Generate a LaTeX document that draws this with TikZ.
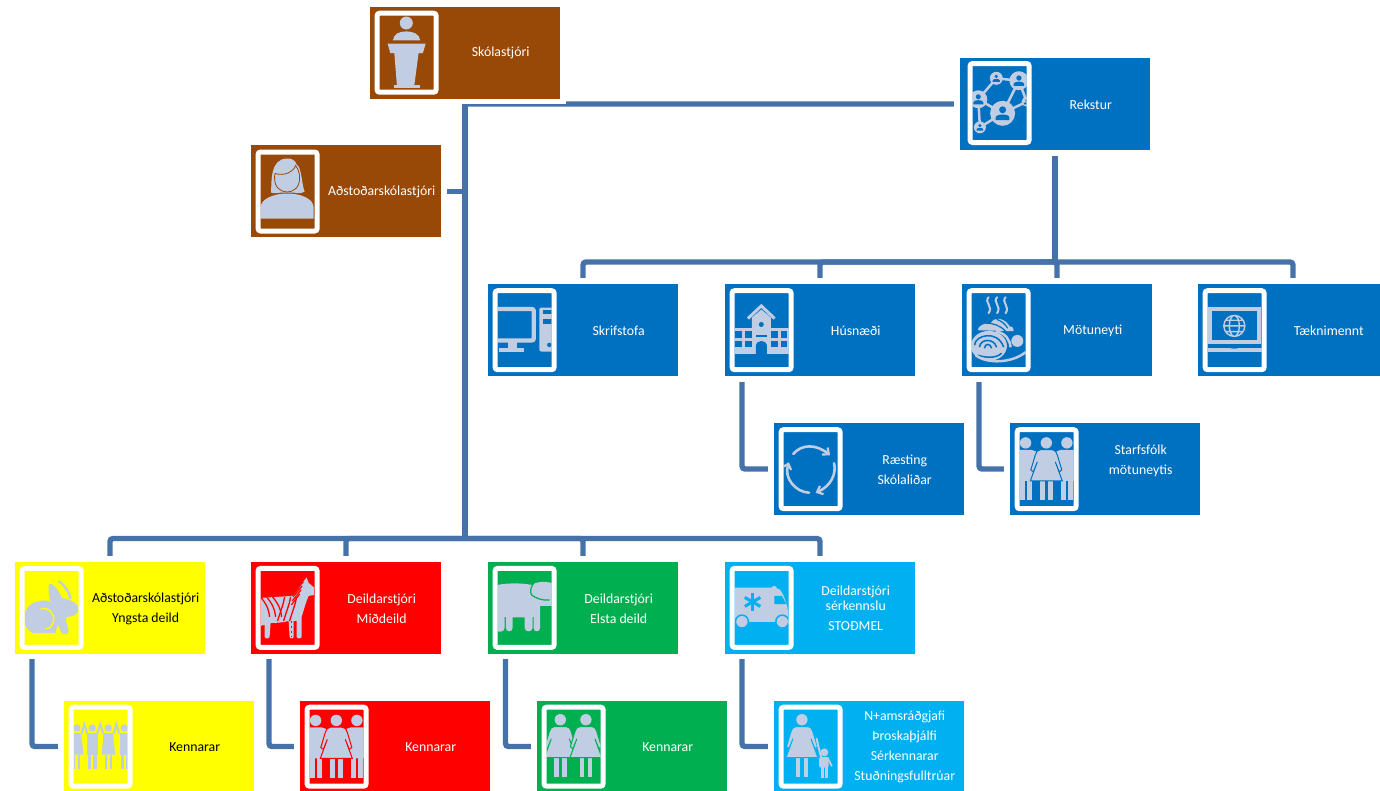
\documentclass[tikz,border=0pt]{standalone}
\usepackage{fontspec}
\setmainfont{Carlito}
\usetikzlibrary{backgrounds,arrows.meta,calc}
\definecolor{cbrown}{HTML}{984807}
\definecolor{cblue}{HTML}{0070C0}
\definecolor{cyellow}{HTML}{FFFF00}
\definecolor{cred}{HTML}{FF0000}
\definecolor{cgreen}{HTML}{00B050}
\definecolor{csky}{HTML}{00B0F0}
\definecolor{iconc}{HTML}{C1CDE2}
\definecolor{linkc}{HTML}{4672AA}
\tikzset{
  orgbox/.style={anchor=north west,inner sep=0pt,outer sep=0pt,minimum width=190pt,minimum height=92pt,preaction={draw=white,line width=11.5pt}},
  orglabel/.style={inner sep=0pt,align=center,font=\fontsize{13.8}{20}\selectfont},
  iconframe/.style={draw=white,line width=5pt,rounded corners=2.5pt},
  link/.style={draw=linkc,line width=5.4pt,rounded corners=3pt}
}
\def\iy{9.2}
\def\ix{9.6}
\newcommand\OrgBox[7]{%
  \node[orgbox,fill=#4,at={(#2,#3)}] (#1) {};
  \node[orglabel,text=#5,at={(#2+130.7,#3+46.7)}] (#1-t) {#6};
  \begin{scope}[shift={(#2+\ix,#3+\iy)}]
    \colorlet{bx}{#4}
    \begin{scope}
      \clip (0,0) rectangle (54,74);
      #7
    \end{scope}
    \draw[iconframe] (-2.5,-2.5) rectangle (56.5,76.5);
  \end{scope}
}
% figures
\newcommand\Wom[2]{\begin{scope}[shift={(#1,#2)}]
  \fill[iconc] (0,0) circle (5.7);
  \fill[iconc] (-6,38) rectangle (-1.7,57.5);
  \fill[iconc] (2,38) rectangle (6.3,57.5);
  \filldraw[fill=iconc,draw=bx,line width=1pt] (-6,6.8) -- (6,6.8) .. controls (9,7) and (10,9) .. (11,12) -- (15.5,27) -- (13,29) -- (9,19) -- (16,38) -- (-16,38) -- (-9,19) -- (-13,29) -- (-15.5,27) -- (-11,12) .. controls (-10,9) and (-9,7) .. (-6,6.8) -- cycle;
\end{scope}}
\newcommand\Man[2]{\begin{scope}[shift={(#1,#2)}]
  \fill[iconc] (0,0) circle (5.7);
  \fill[iconc] (-12,38) -- (-12,12) .. controls (-12,9) and (-9,7) .. (-6,7) -- (6,7) .. controls (9,7) and (12,9) .. (12,12) -- (12,38) -- cycle;
  \fill[iconc] (-5.5,36) rectangle (-0.8,57.5);
  \fill[iconc] (1.5,36) rectangle (6.5,57.5);
\end{scope}}
\newcommand\NetP[3]{%
  \fill[iconc] (#1,#2) circle (#3);
  \fill[bx] (#1,#2-.28*#3) circle (.28*#3);
  \fill[bx] (#1-.55*#3,#2+.55*#3) -- (#1-.55*#3,#2+.32*#3) .. controls (#1-.5*#3,#2+.02*#3) and (#1+.5*#3,#2+.02*#3) .. (#1+.55*#3,#2+.32*#3) -- (#1+.55*#3,#2+.55*#3) -- cycle;
}
% icons
\newcommand\IcPodium{%
  \fill[iconc] (26.7,7.3) circle (6.5);
  \fill[iconc] (13.3,24.7) .. controls (14,18) and (20,15.7) .. (26.7,15.7) .. controls (33,15.7) and (40,18) .. (40.7,24.7) -- cycle;
  \fill[iconc] (8,28) -- (46,28) -- (43.3,37.3) -- (39,37.3) -- (34.7,69.7) -- (17.3,69.7) -- (14.7,37.3) -- (10.7,37.3) -- cycle;
  \fill[iconc] (14,69.7) rectangle (40,72.7);
}
\newcommand\IcWoman{%
  \fill[iconc] (10.5,38) .. controls (11,28) and (9,4) .. (26.7,4) .. controls (34,4) and (35,8) .. (36,10) .. controls (41,12) and (41,30) .. (44,37) .. controls (42,39) and (36,39) .. (33,38) -- (20,38) .. controls (16,39) and (12,39) .. (10.5,38) -- cycle;
  \filldraw[fill=iconc,draw=bx,line width=0.8pt] (39,24) .. controls (39,42) and (14,42) .. (14,24) .. controls (14,21) and (14,20) .. (14.5,19) .. controls (24,22) and (33,17) .. (35,11) .. controls (38,15) and (39,19) .. (39,24) -- cycle;
  \fill[iconc] (0,64) -- (0,53) .. controls (0,44) and (14,39) .. (26.7,39) .. controls (40,39) and (53,44) .. (53,53) -- (53,64) -- cycle;
}
\newcommand\IcNet{%
  \draw[iconc,line width=2.5pt] (7.3,61.3) -- (5.7,33.3) -- (23.7,12.3) -- (46.3,14.7) -- (30,47.3) -- (5.7,33.3) (7.3,61.3) -- (30,47.3) -- (54,35.7) -- (46.3,14.7);
  \NetP{23.7}{12.3}{6.5}
  \NetP{46.3}{14.7}{9.5}
  \NetP{5.7}{33.3}{9}
  \NetP{30}{47.3}{12.5}
  \NetP{7.3}{61.3}{6}
  \NetP{54}{35.7}{5}
}
\newcommand\IcPc{%
  \draw[iconc,line width=4.3pt,rounded corners=2pt] (-10,15.8) rectangle (36.2,47.2);
  \fill[iconc] (10.7,49) rectangle (19,54.5);
  \fill[iconc] (1.7,54.3) rectangle (26.3,58.7);
  \fill[iconc,rounded corners=2pt] (41.7,14.3) rectangle (65,58.3);
  \fill[bx] (45,16.7) rectangle (60,21);
  \fill[bx] (45,25.3) rectangle (60,30.3);
  \fill[bx] (51.7,51.7) circle (2.2);
}
\newcommand\IcSchool{%
  \draw[iconc,line width=3pt] (13.3,25.3) -- (26.7,12.7) -- (40,25.3);
  \fill[iconc] (17.3,35) -- (17.3,24.3) -- (26.7,16.3) -- (36.3,24.3) -- (36.3,35) -- cycle;
  \fill[iconc] (0,34.3) rectangle (54,61);
  \fill[bx] (26.7,31.3) circle (2.5);
  \foreach \xa/\xb in {0.7/7.7,10.7/17.3,36.7/43,46.3/52.7}{
    \fill[bx] (\xa,38) rectangle (\xb,44.3);
    \fill[bx] (\xa,47.7) rectangle (\xb,53.7);
  }
  \fill[bx] (21.7,41.3) rectangle (32.3,43.7);
  \fill[bx] (21.3,61) -- (21.3,53) .. controls (21.3,46) and (32.3,46) .. (32.3,53) -- (32.3,61) -- cycle;
}
\newcommand\IcFood{%
  \foreach \sx in {17,25.5,34}{
    \draw[iconc,line width=2pt,line cap=round] (\sx,4) .. controls (\sx-5,9) and (\sx+5,13) .. (\sx,20);
  }
  \fill[iconc] (6,37) .. controls (8,30) and (16,30) .. (19,30) .. controls (24,22) and (34,26) .. (38,33) .. controls (40,33) and (42,34) .. (42,38) -- cycle;
  \draw[bx,line width=1.2pt] (14,30) .. controls (22,30) and (28,32) .. (34,38) (25,26) .. controls (30,28) and (34,31) .. (36,35);
  \fill[iconc] (17.3,52.7) ellipse (18 and 15);
  \draw[iconc,line width=2.5pt] (24,38) .. controls (34,40) and (38,46) .. (39,54);
  \draw[bx,line width=1.5pt] (3,52) .. controls (3,42) and (26,36) .. (32,54) (8,54) .. controls (8,46) and (22,44) .. (25,54) (13,55) .. controls (13,50) and (19,50) .. (20,55) (6,62) .. controls (12,64) and (24,66) .. (30,60);
  \fill[iconc] (45.7,47.7) circle (6);
  \draw[iconc,line width=2.5pt] (4,62) .. controls (16,71) and (40,70) .. (54,59);
}
\newcommand\IcLaptop{%
  \draw[iconc,line width=4.2pt] (1.9,15.8) rectangle (51.1,48.9);
  \fill[iconc] (0,54.3) rectangle (54,58.7);
  \fill[bx] (21.7,54.3) .. controls (22,55.8) and (31,55.8) .. (31.7,54.3) -- cycle;
  \draw[iconc,line width=1.4pt] (26.7,32.7) circle (10.5) (26.7,32.7) ellipse (5 and 10.5) (16.2,32.7) -- (37.2,32.7) (18,27) -- (35.4,27) (18,38.4) -- (35.4,38.4);
}
\newcommand\IcCycle{%
  \begin{scope}[iconc,line width=2.6pt,line cap=round]
    \draw[-{Straight Barb[length=5pt,width=9pt,line width=2.2pt]}] (9.7,21.7) .. controls (18,12) and (32,11.5) .. (46.5,23);
    \draw[-{Straight Barb[length=5pt,width=9pt,line width=2.2pt]}] (50.5,31) .. controls (53,42) and (47,54) .. (32,60.5);
    \draw[-{Straight Barb[length=5pt,width=9pt,line width=2.2pt]}] (25.5,60.5) .. controls (12,60) and (0,46) .. (5.3,30);
  \end{scope}
}
\newcommand\IcRabbit{%
  \fill[iconc] (0,42) .. controls (3,35) and (8,31) .. (12,31) .. controls (16,29) and (22,29) .. (26,31) .. controls (24,24) and (23,14) .. (25,13) .. controls (29,12) and (36,22) .. (37,27) .. controls (44,28) and (54,32) .. (54,38) .. controls (54,43) and (49,46) .. (42,46) .. controls (40,50) and (43,54) .. (44,60) .. controls (44,64) and (39,64) .. (37,62) -- (33,53) -- (31,62) -- (8,62) .. controls (4,60) and (1,57) .. (0,52) -- cycle;
  \draw[iconc,line width=2.4pt] (34,10) .. controls (40,14) and (45,22) .. (46,28);
  \draw[bx,line width=1.4pt] (16,38) .. controls (24,36) and (30,42) .. (29,50) .. controls (28,55) and (25,58) .. (21,58);
}
\newcommand\IcZebra{%
  \begin{scope}
    \clip (0,27) -- (32,25) .. controls (38,20) and (42,11) .. (46,6.5) -- (48,12) -- (54,17) -- (54,24) -- (48,25) .. controls (45,32) and (43,40) .. (41,46) -- (41,66) .. controls (41,68) and (36,68) .. (36,66) -- (36,50) -- (33,50) -- (33,66) .. controls (33,68) and (29,68) .. (29,66) -- (28,50) .. controls (22,52) and (14,52) .. (10,52) -- (9,66) .. controls (9,68) and (4,68) .. (4,66) -- (4,54) -- (0,55) -- cycle;
    \fill[iconc] (0,0) rectangle (54,74);
    \foreach \a in {0,6,12}{
      \draw[bx,line width=1.3pt] (\a,26) .. controls (\a+4,31) and (\a+8,36) .. (\a+9,46);
    }
    \foreach \a in {24,30,36}{
      \draw[bx,line width=1.3pt] (\a,26) .. controls (\a-1,33) and (\a-4,40) .. (\a-7,50);
    }
    \foreach \a in {0,4,8,12,16}{
      \draw[bx,line width=1.2pt] (44-\a*0.3,7+\a) -- (34-\a*0.2,18+\a);
    }
    \draw[bx,line width=1pt,dash pattern=on 2pt off 3pt] (31,50) -- (31,66);
  \end{scope}
}
\newcommand\IcElephant{%
  \fill[iconc] (0,14) .. controls (10,12) and (24,12) .. (34,14) .. controls (38,11) and (46,10) .. (54,12) -- (54,35) -- (42.5,35) -- (42.5,57) .. controls (42.5,61.5) and (36,61.5) .. (36,57) -- (36,46) -- (35,46) -- (35,57) .. controls (35,61.5) and (27,61.5) .. (27,57) -- (27,46.5) -- (15,46.5) -- (15,57) .. controls (15,61.5) and (8.3,61.5) .. (8.3,57) -- (8.3,46) -- (7,46) -- (7,57) .. controls (7,61.5) and (0,61.5) .. (0,60) -- cycle;
  \draw[bx,line width=1.2pt] (37,11) .. controls (33,16) and (32,21) .. (34,24) .. controls (38,27) and (44,30) .. (52,29);
}
\newcommand\IcAmbulance{%
  \fill[iconc] (39.5,18) circle (3);
  \fill[iconc] (0,16.7) -- (38,16.7) -- (44,18) .. controls (48,20) and (51,30) .. (53,37) -- (54,52) -- (0,52) -- cycle;
  \fill[bx] (39.7,25) -- (47.3,25) -- (51.7,33.3) -- (39.7,33.3) -- cycle;
  \foreach \rr in {0,60,120}{
    \draw[bx,line width=3pt,rotate around={\rr:(18,31)}] (18,22) -- (18,40);
  }
  \fill[bx] (0,51.5) rectangle (54,56);
  \filldraw[fill=iconc,draw=bx,line width=1.5pt] (7.3,50.7) circle (6.5);
  \filldraw[fill=iconc,draw=bx,line width=1.5pt] (47.7,50.7) circle (6.5);
}
\newcommand\IcThree{%
  \Man{6}{10.7}
  \Man{47.3}{10.7}
  \Wom{26.7}{10.7}
}
\newcommand\IcTwo{%
  \Wom{13.7}{10}
  \Wom{39.3}{10}
}
\newcommand\IcFour{%
  \foreach \cx in {3.3,18.7,34.7,50.7}{
    \fill[iconc] (\cx,18.3) circle (3.7);
  }
  \draw[iconc,line width=2pt] (8,24) -- (10.7,14.5) -- (13.5,24) (23.5,24) -- (26.7,14.5) -- (29.7,24) (40,24) -- (42.7,14.5) -- (45.5,24);
  \fill[iconc] (-1,23.5) -- (7.5,23.5) -- (10,45) -- (-3,45) -- cycle;
  \fill[iconc] (13.5,23.5) rectangle (24,45);
  \fill[iconc] (14.5,45) rectangle (17.7,59.3);
  \fill[iconc] (19.5,45) rectangle (23,59.3);
  \fill[iconc] (30,23.5) -- (39.5,23.5) -- (41.5,45) -- (28,45) -- cycle;
  \fill[iconc] (31,45) rectangle (33.7,59.3);
  \fill[iconc] (36,45) rectangle (38.7,59.3);
  \fill[iconc] (46,23.5) rectangle (56,45);
  \fill[iconc] (47,45) rectangle (50,59.3);
  \fill[iconc] (52,45) rectangle (55,59.3);
  \fill[iconc] (0,45) rectangle (1.5,59.3);
  \fill[iconc] (4,45) rectangle (6.5,59.3);
}
\newcommand\IcMother{%
  \Wom{18.3}{10}
  \fill[iconc] (40.7,42.7) circle (4);
  \draw[iconc,line width=2pt,line cap=round] (33,29) -- (38,50);
  \draw[iconc,line width=2pt,line cap=round] (44,48) -- (48,56);
  \fill[iconc,rounded corners=2pt] (35.5,47.5) rectangle (45,58);
  \fill[iconc] (37,57) rectangle (40,68.3);
  \fill[iconc] (41.5,57) rectangle (44.5,68.3);
}
\begin{document}
\begin{tikzpicture}[x=1pt,y=-1pt]
\useasboundingbox (0,0) rectangle (1380,790);
\OrgBox{skola}{370}{6.5}{cbrown}{white}{Skólastjóri}{\IcPodium}
\OrgBox{adst}{251}{145.3}{cbrown}{white}{Aðstoðarskólastjóri}{\IcWoman}
\def\iy{8}\def\ix{12.6}
\OrgBox{rekstur}{960}{58}{cblue}{white}{Rekstur}{\IcNet}
\def\iy{9.2}\def\ix{9.6}
\OrgBox{skrif}{488}{284}{cblue}{white}{Skrifstofa}{\IcPc}
\OrgBox{husn}{725}{284}{cblue}{white}{Húsnæði}{\IcSchool}
\OrgBox{motun}{962}{284}{cblue}{white}{Mötuneyti}{\IcFood}
\OrgBox{taekni}{1198}{284}{cblue}{white}{Tæknimennt}{\IcLaptop}
\OrgBox{raest}{774}{423}{cblue}{white}{Ræsting\\Skólaliðar}{\IcCycle}
\OrgBox{starfs}{1010}{423}{cblue}{white}{Starfsfólk\\mötuneytis\\\mbox{}}{\IcThree}
\OrgBox{yngsta}{15}{561.7}{cyellow}{black}{Aðstoðarskólastjóri\\Yngsta deild}{\IcRabbit}
\OrgBox{mid}{251}{561.7}{cred}{white}{Deildarstjóri\\Miðdeild}{\IcZebra}
\OrgBox{elsta}{488}{561.7}{cgreen}{white}{Deildarstjóri\\Elsta deild}{\IcElephant}
\OrgBox{serk}{725}{561.7}{csky}{white}{Deildarstjóri\\[-5pt]sérkennslu\\STOÐMEL}{\IcAmbulance}
\OrgBox{kyng}{64}{700.5}{cyellow}{black}{Kennarar}{\IcFour}
\OrgBox{kmid}{300}{700.5}{cred}{white}{Kennarar}{\IcThree}
\OrgBox{kels}{537}{700.5}{cgreen}{white}{Kennarar}{\IcTwo}
\OrgBox{kser}{774}{700.5}{csky}{white}{N+amsráðgjafi\\Þroskaþjálfi\\Sérkennarar\\Stuðningsfulltrúar}{\IcMother}
\coordinate (busa) at (465,538.5);
\coordinate (busb) at (1055,262);
\begin{pgfonlayer}{background}
  \draw[link] (rekstur.west) -| (skola.south);
  \draw[link] (skola.south) -- (busa);
  \draw[link] (adst.east) -- (adst.east -| skola.south);
  \draw[link] (busa) -| (yngsta.north);
  \draw[link] (busa) -| (mid.north);
  \draw[link] (busa) -| (elsta.north);
  \draw[link] (busa) -| (serk.north);
  \draw[link] (rekstur.south) -- (busb);
  \draw[link] (busb) -| (skrif.north);
  \draw[link] (busb) -| (husn.north);
  \draw[link] (busb) -| (motun.north);
  \draw[link] (busb) -| (taekni.north);
  \draw[link] ([xshift=17pt]husn.south west) |- (raest.west);
  \draw[link] ([xshift=17pt]motun.south west) |- (starfs.west);
  \draw[link] ([xshift=17pt]yngsta.south west) |- (kyng.west);
  \draw[link] ([xshift=18pt]mid.south west) |- (kmid.west);
  \draw[link] ([xshift=17.5pt]elsta.south west) |- (kels.west);
  \draw[link] ([xshift=17pt]serk.south west) |- (kser.west);
\end{pgfonlayer}
\end{tikzpicture}
\end{document}
